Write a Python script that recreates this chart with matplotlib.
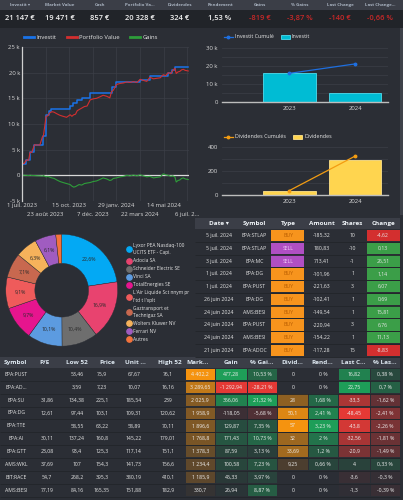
import numpy as np
import matplotlib.pyplot as plt
from matplotlib.patches import Rectangle
from matplotlib.lines import Line2D
from matplotlib.colors import to_rgb

plt.rcParams['font.family'] = ['Open Sans', 'DejaVu Sans']

W, H = 403, 500
BG = '#2b2e35'
DARK = '#212429'
HEAD = '#3b3e47'
GRID = '#3c3f47'
TXT = '#e6e6e6'
ORANGE = '#f5930f'
GREEN = '#1e9e58'
RED = '#e53935'

# KPI strip
kpi_labels = ['Investit ▾', 'Market Value', 'Cash', 'Portfolio Va...', 'Dividendes',
              'Rendement', 'Gains', '% Gains', 'Last Change', 'Last Change...']
kpi_values = [21147, 19471, 857, 20328, 324, 1.53, -819, -3.87, -140, -0.66]
kpi_units = [' €', ' €', ' €', ' €', ' €', ' %', ' €', ' %', ' €', ' %']

# line chart (days since 1 juil. 2023, values in k€)
tick_days = [0, 53, 106, 159, 212, 265, 318, 371]
tick_labels = ['1 juil. 2023', '23 août 2023', '15 oct. 2023', '7 déc. 2023',
               '29 janv. 2024', '22 mars 2024', '14 mai 2024', '6 juil. 2...']
invest_days = [0, 1, 10, 18, 28, 46, 54, 60, 66, 108, 115, 123, 134, 153, 201, 212,
               265, 287, 328, 336, 343, 373]
invest_vals = [0, 2.3, 3.0, 4.5, 6.0, 7.7, 11.8, 12.5, 12.9, 13.6, 14.1, 14.6, 15.0,
               16.1, 17.2, 18.2, 18.6, 19.3, 20.0, 20.5, 21.15, 21.15]
port_days = [0, 1, 5, 10, 15, 18, 22, 28, 33, 40, 46, 48, 54, 58, 62, 67, 72, 78, 85, 92,
             100, 108, 112, 116, 120, 124, 128, 134, 140, 146, 153, 160, 167, 175, 182,
             190, 197, 201, 205, 212, 220, 228, 235, 242, 250, 258, 265, 272, 280, 287,
             295, 302, 310, 317, 322, 328, 334, 338, 343, 346, 350, 354, 358, 362, 366, 373]
port_vals = [0, 2.3, 2.32, 3.0, 2.95, 4.52, 4.47, 5.95, 5.92, 5.9,
             7.55, 7.65, 11.5, 11.6, 12.15, 12.4, 12.3, 12.0, 11.7, 11.5,
             11.3, 11.8, 11.5, 11.8, 11.9, 12.6, 12.8, 13.1, 13.4, 13.5,
             14.7, 14.9, 15.0, 15.3, 15.6, 15.4, 15.1, 16.3, 16.6, 17.7,
             17.9, 18.0, 18.2, 18.1, 18.25, 18.1, 18.7, 18.5, 18.3, 19.1,
             18.8, 18.9, 19.0, 19.6, 19.4, 20.0, 19.8, 20.4, 20.85, 19.85,
             20.15, 20.25, 20.55, 20.65, 20.45, 20.33]
gains_vals = [0, 0, 0.02, 0.0, -0.05, 0.02, -0.03, -0.05, -0.08, -0.1,
              -0.15, -0.05, -0.3, -0.2, -0.35, -0.5, -0.6, -0.9, -1.2, -1.4,
              -1.6, -1.8, -2.1, -2.3, -2.2, -2.0, -1.8, -1.9, -1.6, -1.5,
              -1.4, -1.2, -1.1, -0.8, -0.5, -0.7, -1.0, -0.9, -0.6, -0.5,
              -0.3, -0.2, 0.0, -0.1, 0.05, -0.1, 0.1, -0.1, -0.3, -0.2,
              -0.5, -0.4, -0.3, 0.3, 0.1, 0.0, -0.2, -0.1, -0.3, -1.3,
              -1.0, -0.9, -0.6, -0.5, -0.7, -0.82]

# yearly bars
years = ['2023', '2024']
invest_year = [15900, 5250]
invest_cum = [15900, 21150]
div_year = [36, 288]
div_cum = [36, 324]

# allocation donut
pie_names = ['Lyxor PEA Nasdaq-100\nUCITS ETF - Capi.', 'Adocia SA', 'Schneider Electric SE',
             'Vinci SA', 'TotalEnergies SE', "L'Air Liquide Sct nnym pr\nl'td t l'xplt",
             'Gaztransport et\nTechnigaz SA', 'Wolters Kluwer NV', 'Ferrari NV', 'Autres']
pie_colors = ['#03a9f4', '#e8436f', '#6e6e6e', '#5c9be0', '#e6158e', '#ef5b5b',
              '#c8684f', '#f6b25b', '#a05cc0', '#f4733c']

# transactions
tx_dates = ['5 juil. 2024', '5 juil. 2024', '3 juil. 2024', '1 juil. 2024', '1 juil. 2024',
            '26 juin 2024', '24 juin 2024', '24 juin 2024', '24 juin 2024', '21 juin 2024']
tx_symbols = ['EPA:STLAP', 'EPA:STLAP', 'EPA:MC', 'EPA:DG', 'EPA:PUST', 'EPA:DG',
              'AMS:BESI', 'EPA:PUST', 'AMS:BESI', 'EPA:ADOC']
tx_types = ['BUY', 'SELL', 'SELL', 'BUY', 'BUY', 'BUY', 'BUY', 'BUY', 'BUY', 'BUY']
tx_amounts = [-185.32, 180.83, 713.41, -101.96, -221.63, -102.41, -149.54, -220.94, -154.22, -117.28]
tx_shares = [10, -10, -1, 1, 3, 1, 1, 3, 1, 15]
tx_change = [-4.62, 0.13, 26.51, 1.14, 6.07, 0.69, 15.81, 6.76, 11.13, -8.83]

# holdings
h_symbols = ['EPA:PUST', 'EPA:AD…', 'EPA:SU', 'EPA:DG', 'EPA:TTE', 'EPA:AI', 'EPA:GTT',
             'AMS:WKL', 'BIT:RACE', 'AMS:BESI']
h_pe = [None, None, 31.86, 12.61, None, 30.11, 23.08, 37.69, 54.7, 77.19]
h_low = [53.46, 3.59, 134.38, 97.44, 58.55, 137.24, 93.4, 107, 268.2, 84.16]
h_price = [75.9, 7.23, 225.1, 103.1, 63.22, 160.8, 125.3, 154.3, 395.3, 165.35]
h_unit = [67.67, 10.07, 185.54, 109.31, 58.89, 145.22, 117.14, 141.73, 380.19, 151.88]
h_high = [76.1, 16.16, 239, 120.62, 70.11, 179.01, 151.1, 156.6, 410.1, 182.9]
h_market = [4402.2, 3289.65, 2025.9, 1958.9, 1896.6, 1768.8, 1378.3, 1234.4, 1185.9, 330.7]
h_gain = [477.28, -1292.94, 356.06, -118.05, 129.87, 171.43, 87.59, 100.58, 45.33, 26.94]
h_pgain = [10.53, -28.21, 21.32, -5.68, 7.35, 10.73, 3.13, 7.23, 3.97, 8.87]
h_div = [0, 0, 28, 50.1, 57, 32, 33.69, 9.25, 0, 0]
h_rend = [0, 0, 1.68, 2.41, 3.23, 2, 1.2, 0.66, 0, 0]
h_last = [16.82, 22.75, -33.3, -48.45, -43.8, -32.56, -20.9, 4, -3.6, -1.3]
h_plast = [0.38, 0.7, -1.62, -2.41, -2.26, -1.81, -1.49, 0.33, -0.3, -0.39]


def fmt(v):
    s = f"{abs(v):,.2f}".rstrip('0').rstrip('.')
    s = s.replace(',', ' ').replace('.', ',')
    return ('-' if v < 0 else '') + s


def mix(c, a):
    a = max(0.0, min(1.0, a))
    c0 = np.array(to_rgb(BG))
    c1 = np.array(to_rgb(c))
    return tuple(c0 + (c1 - c0) * a)


def signed(v, vals, scale=1.0):
    if v >= 0:
        return mix(GREEN, scale * v / max(vals))
    return mix(RED, scale * v / min(vals))


def px_axes(x0, y0, x1, y1):
    ax = fig.add_axes([x0 / W, 1 - y1 / H, (x1 - x0) / W, (y1 - y0) / H])
    ax.set_facecolor('none')
    return ax


fig = plt.figure(figsize=(W / 100, H / 100), dpi=100)
fig.patch.set_facecolor(BG)
bg = fig.add_axes([0, 0, 1, 1])
bg.set_xlim(0, W)
bg.set_ylim(H, 0)
bg.axis('off')

# ---- KPI strip
bg.add_patch(Rectangle((0, 0), W, 10, color=HEAD, lw=0))
bg.add_patch(Rectangle((0, 10), W, 18, color=DARK, lw=0))
for i, (lab, val, unit) in enumerate(zip(kpi_labels, kpi_values, kpi_units)):
    cx = 20 + 40 * i
    bg.text(cx, 5.3, lab, ha='center', va='center', fontsize=3.2, fontweight='bold', color='#aab4c2')
    col = '#c62828' if val < 0 else '#f2f2f2'
    bg.text(cx, 18.5, fmt(val) + unit, ha='center', va='center', fontsize=5.4,
            fontweight='semibold', color=col)
bg.add_patch(Rectangle((400, 28), 3, 187, color='#3e4149', lw=0))

# ---- line chart
ax = px_axes(22, 47, 188.7, 201)
l_inv, = ax.plot(invest_days, invest_vals, drawstyle='steps-post', color='#1a73e8', lw=1.1)
l_port, = ax.plot(port_days, port_vals, color='#d32f2f', lw=0.8)
l_gain, = ax.plot(port_days, gains_vals, color='#2e9e3a', lw=0.8)
ax.axhline(0, color='#d9d9d9', lw=0.9, zorder=1)
ax.set_xlim(0, 374)
ax.set_ylim(-5, 25)
ax.set_yticks(range(-5, 26, 5))
ax.set_yticklabels([f"{v} k" if v else "0" for v in range(-5, 26, 5)])
ax.set_xticks(tick_days[::2])
ax.set_xticklabels(tick_labels[::2])
ax.set_xticks(tick_days[1::2], minor=True)
ax.set_xticklabels(tick_labels[1::2], minor=True)
ax.grid(which='both', color=GRID, lw=0.5)
ax.set_axisbelow(True)
for s in ['top', 'right', 'bottom']:
    ax.spines[s].set_visible(False)
ax.spines['left'].set_color('#d0d0d0')
ax.spines['left'].set_linewidth(0.9)
ax.tick_params(which='both', length=0, labelsize=4.3, colors='#d8d8d8', pad=1.5)
ax.tick_params(axis='x', which='minor', pad=8)
fig.legend([Line2D([], [], color='#1a73e8', lw=2), Line2D([], [], color='#d32f2f', lw=2),
            Line2D([], [], color='#2e9e3a', lw=2)],
           ['Investit', 'Portfolio Value', 'Gains'], loc='center left',
           bbox_to_anchor=(19 / W, 1 - 37.3 / H), ncol=3, frameon=False, fontsize=4.2,
           handlelength=1.7, handletextpad=0.4, columnspacing=1.8, labelcolor=TXT)

# ---- yearly bar charts
x = np.arange(len(years))
for (y0, y1, ly, bars, cum, top, step, major, bcol, ecol, lcol, names, labfmt) in [
        (48, 102, 37, invest_year, invest_cum, 30000, 5000, 10000, '#00bcd4', '#4fdcee', '#1e6fe0',
         ['Investit Cumulé', 'Investit'], lambda v: f"{int(v / 1000)} k" if v else "0"),
        (147, 195, 137, div_year, div_cum, 400, 100, 200, '#ffd54f', '#ffe38a', '#f39c12',
         ['Dividendes Cumulés', 'Dividendes'], lambda v: f"{int(v)}")]:
    axb = px_axes(222, y0, 388, y1)
    b = axb.bar(x, bars, width=0.8, color=bcol, edgecolor=ecol, lw=0.6, zorder=2)
    ln, = axb.plot(x, cum, color=lcol, marker='o', ms=1.8, lw=0.9, zorder=3)
    axb.set_xlim(-1.02, 1.5)
    axb.set_ylim(0, top)
    axb.set_xticks(x)
    axb.set_xticklabels(years)
    axb.set_yticks(np.arange(0, top + 1, major))
    axb.set_yticklabels([labfmt(v) for v in np.arange(0, top + 1, major)])
    axb.set_yticks(np.arange(0, top + 1, step), minor=True)
    axb.grid(axis='y', which='both', color=GRID, lw=0.5)
    axb.set_axisbelow(True)
    for s in ['top', 'right', 'left']:
        axb.spines[s].set_visible(False)
    axb.spines['bottom'].set_color('#bdbdbd')
    axb.spines['bottom'].set_linewidth(1.0)
    axb.tick_params(which='both', length=0, labelsize=4.3, colors='#d8d8d8', pad=3)
    fig.legend([ln, b], names, loc='center left', bbox_to_anchor=(219 / W, 1 - ly / H), ncol=2,
               frameon=False, fontsize=3.9, handlelength=1.6, handletextpad=0.4,
               columnspacing=1.4, labelcolor=TXT)

# ---- donut
axp = px_axes(61.7 - 56.5, 290.2 - 56.5, 61.7 + 56.5, 290.2 + 56.5)
axp.pie(h_market, colors=pie_colors, startangle=90, counterclock=False, radius=1,
        wedgeprops=dict(width=0.52, edgecolor=BG, linewidth=0.3),
        autopct=lambda p: f"{p:.1f}%".replace('.', ',') if p > 3 else '',
        pctdistance=0.74, textprops=dict(fontsize=3.7, color='#2b2b2b'))
axp.set_xlim(-1.01, 1.01)
axp.set_ylim(-1.01, 1.01)
leg = fig.legend([Line2D([], [], ls='', marker='o', ms=3.8, color=c) for c in pie_colors], pie_names,
                 loc='upper left', bbox_to_anchor=(122 / W, 1 - 238.5 / H), frameon=False,
                 fontsize=3.5, labelspacing=0.62, handletextpad=0.15, handlelength=1.2,
                 labelcolor=TXT)
for t in leg.get_texts():
    t.set_linespacing(1.6)

# ---- transactions table
tx_cols = [219, 254.5, 288, 322, 352.5, 383]
tx_heads = ['Date ▾', 'Symbol', 'Type', 'Amount', 'Shares', 'Change']
bg.add_patch(Rectangle((195, 217.5), 205, 11.7, color=HEAD, lw=0))
for cx, hd in zip(tx_cols, tx_heads):
    bg.text(cx, 223.3, hd, ha='center', va='center', fontsize=4.6, fontweight='bold', color='#eef2f6')
RH = 12.75
for i in range(len(tx_dates)):
    top = 229.2 + RH * i
    cy = top + RH / 2
    bg.hlines(top + RH, 195, 400, color='#22252a', lw=0.6)
    buy = tx_types[i] == 'BUY'
    bg.add_patch(Rectangle((271, top + 0.6), 33.3, RH - 1.2, color='#f7941d' if buy else '#b04fc3', lw=0))
    bg.add_patch(Rectangle((367, top + 0.6), 32.5, RH - 1.2,
                           color='#d32f2f' if tx_change[i] < 0 else '#3b9e48', lw=0))
    cells = [tx_dates[i], tx_symbols[i], tx_types[i], fmt(tx_amounts[i]), str(tx_shares[i]), fmt(tx_change[i])]
    for j, (cx, s) in enumerate(zip(tx_cols, cells)):
        col = TXT
        if j == 2:
            col = '#b85c00' if buy else '#f2cdf8'
        bg.text(cx, cy, s, ha='center', va='center', fontsize=3.7, color=col)

# ---- holdings table
hd_x = [15, 45, 77, 107, 135, 170, 198, 231, 262, 292, 322, 353, 385]
hd_txt = ['Symbol', 'P/E', 'Low 52', 'Price', 'Unit …', 'High 52', 'Mark…', 'Gain', '% Gai…',
          'Divid…', 'Rend…', 'Last C…', '% Las…']
bg.add_patch(Rectangle((0, 356.6), 400, 11.4, color=HEAD, lw=0))
for cx, hd in zip(hd_x, hd_txt):
    bg.text(cx, 362.3, hd, ha='center', va='center', fontsize=4.6, fontweight='bold', color='#dde7f0')

plain_x = [16.5, 47, 77, 102, 134, 168]
color_cols = [(185.5, 215), (216, 246.5), (247.5, 277), (278, 307.5), (308.5, 338), (339, 369.5), (370.5, 400)]
HR = 12.85
mmin, mmax = min(h_market), max(h_market)
for i in range(len(h_symbols)):
    top = 368 + HR * i
    cy = top + HR / 2
    bg.hlines(top + HR, 0, 400, color='#22252a', lw=0.6)
    plain = [h_symbols[i], '' if h_pe[i] is None else fmt(h_pe[i]), fmt(h_low[i]),
             fmt(h_price[i]), fmt(h_unit[i]), fmt(h_high[i])]
    for cx, s in zip(plain_x, plain):
        bg.text(cx, cy, s, ha='center', va='center', fontsize=3.7, color=TXT)
    fills = [mix(ORANGE, 0.05 + 0.95 * (h_market[i] - mmin) / (mmax - mmin)),
             signed(h_gain[i], h_gain),
             signed(h_pgain[i], h_pgain),
             mix(ORANGE, h_div[i] / max(h_div)),
             mix(GREEN, h_rend[i] / max(h_rend)),
             signed(h_last[i], h_last),
             signed(h_plast[i], h_plast, 0.45)]
    texts = [fmt(h_market[i]), fmt(h_gain[i]), fmt(h_pgain[i]) + ' %', fmt(h_div[i]),
             fmt(h_rend[i]) + ' %', fmt(h_last[i]), fmt(h_plast[i]) + ' %']
    for (x0, x1), fc, s in zip(color_cols, fills, texts):
        bg.add_patch(Rectangle((x0, top + 0.6), x1 - x0, HR - 1.2, color=fc, lw=0))
        bg.text((x0 + x1) / 2, cy, s, ha='center', va='center', fontsize=3.7, color='#f0f0f0')

fig.savefig('out.png', dpi=100, facecolor=BG)
